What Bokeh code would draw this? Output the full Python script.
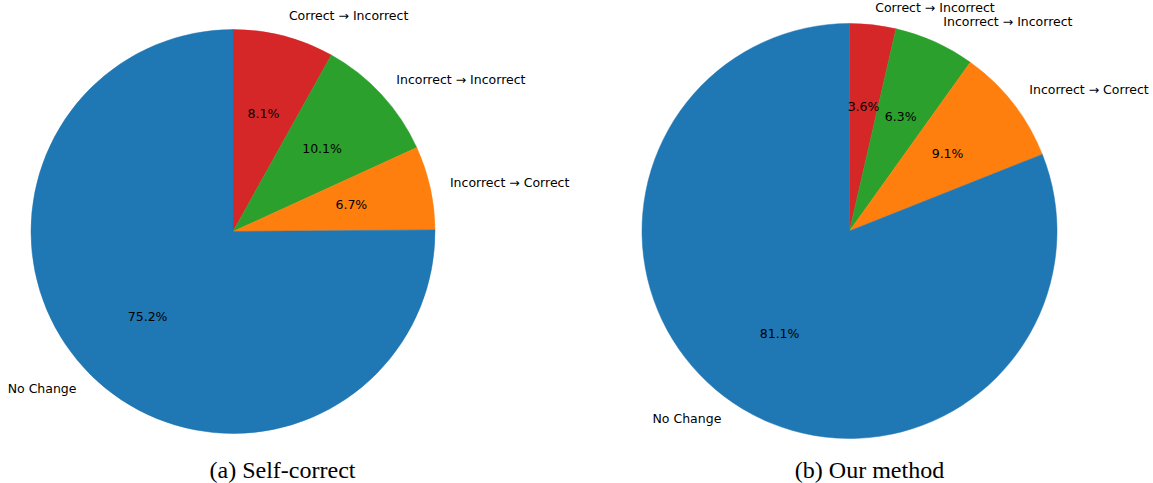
import numpy as np
from bokeh.plotting import figure
from bokeh.models import Range1d, ColumnDataSource
from bokeh.core.properties import value
from bokeh.embed import file_html
from bokeh.resources import INLINE

# ---- data ----
categories = ["Correct \u2192 Incorrect", "Incorrect \u2192 Incorrect",
              "Incorrect \u2192 Correct", "No Change"]
colors = ["#d62728", "#2ca02c", "#ff7f0e", "#1f77b4"]
self_correct = [8.1, 10.1, 6.7, 75.2]
our_method = [3.6, 6.3, 9.1, 81.1]
captions = ["(a) Self-correct", "(b) Our method"]

# ---- figure (data coords == reference pixel coords, y negated) ----
p = figure(width=1153, height=483,
           x_range=Range1d(0, 1153), y_range=Range1d(-483, 0),
           output_backend="svg", toolbar_location=None,
           x_axis_location=None, y_axis_location=None, min_border=0)
p.grid.visible = False
p.outline_line_color = None
p.background_fill_color = "white"
p.border_fill_color = "white"

LABEL_FONT = value("DejaVu Sans")


def draw_pie(cx, cy, r, vals, caption, cap_x):
    v = np.array(vals, dtype=float)
    frac = v / v.sum()
    cum_after = np.cumsum(frac)
    cum_before = cum_after - frac
    start = 90 - cum_after * 360
    end = 90 - cum_before * 360
    src = ColumnDataSource(dict(start=start, end=end, color=colors))
    p.wedge(x=cx, y=cy, radius=r, start_angle="start", end_angle="end",
            start_angle_units="deg", end_angle_units="deg",
            direction="anticlock", fill_color="color", line_color="color",
            line_width=0.5, source=src)
    mid = np.deg2rad((start + end) / 2)
    lx = cx + 1.1 * r * np.cos(mid)
    ly = np.minimum(cy + 1.1 * r * np.sin(mid), -8)  # keep top label inside
    right = np.cos(mid) > 0
    for mask, align in ((right, "left"), (~right, "right")):
        idx = np.where(mask)[0]
        if len(idx) == 0:
            continue
        p.text(x=list(lx[idx]), y=list(ly[idx] + 1),
               text=[categories[i] for i in idx],
               text_font=LABEL_FONT, text_font_size="12.5px",
               text_align=align, text_baseline="middle", text_color="black")
    px = cx + 0.6 * r * np.cos(mid)
    py = cy + 0.6 * r * np.sin(mid)
    p.text(x=list(px), y=list(py + 1), text=["%.1f%%" % x for x in v],
           text_font=LABEL_FONT, text_font_size="12.5px",
           text_align="center", text_baseline="middle", text_color="black")
    p.text(x=[cap_x], y=[-469], text=[caption],
           text_font=value("Liberation Serif"), text_font_size="24px",
           text_align="center", text_baseline="middle", text_color="black")


draw_pie(232.5, -231, 202, self_correct, captions[0], 282)
draw_pie(849, -230.5, 207.5, our_method, captions[1], 869)

open("out.html", "w").write(file_html(p, INLINE))
